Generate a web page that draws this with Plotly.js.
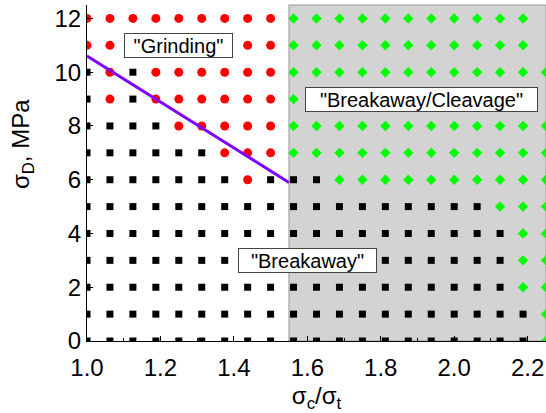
<!DOCTYPE html>
<html>
<head>
<meta charset="utf-8">
<script src="https://cdn.plot.ly/plotly-3.0.1.min.js"></script>
<style>html,body{margin:0;padding:0;background:#fff;}#chart{width:546px;height:413px;}</style>
</head>
<body>
<div id="chart"></div>
<script>
// Grid columns (sigma_c / sigma_t)
const ratioValues = [1.0, 1.0625, 1.125, 1.1875, 1.25, 1.3125, 1.375, 1.4375, 1.5, 1.5625,
  1.625, 1.6875, 1.75, 1.8125, 1.875, 1.9375, 2.0, 2.0625, 2.125, 2.1875, 2.25];
// Grid rows (sigma_D, MPa), top to bottom
const stressValues = [12, 11, 10, 9, 8, 7, 6, 5, 4, 3, 2, 1, 0];
// Regime per grid point: B = Breakaway, R = Grinding, G = Breakaway/Cleavage
const regimeRows = [
  "RRRRRRRRRGGGGGGGGGGG",
  "RRRRRRRRRGGGGGGGGGGG",
  "BRBRRRRRRGGGGGGGGGGGG",
  "BRBRRRRRRGGGGGGGGGGG",
  "BBBBRRRRRGGGGGGGGGGGG",
  "BBBBBBRRRGGGGGGGGGGGG",
  "BBBBBBBRBBBGGGGGGGGGG",
  "BBBBBBBBBBBBBBBBBBGGG",
  "BBBBBBBBBBBBBBBBBBBGG",
  "BBBBBBBBBBBBBBBBBBBGG",
  "BBBBBBBBBBBBBBBBBBBGG",
  "BBBBBBBBBBBBBBBBBBBBG",
  "BBBBBBBBBBBBBBBBBBBBG"
];
// Boundary line
const boundaryX = [1.0, 1.55];
const boundaryY = [10.6, 5.9];
// Shaded cleavage region
const shadeStart = 1.55;
const shadeEnd = 2.25;
// Region labels
const labelTexts = ['"Grinding"', '"Breakaway/Cleavage"', '"Breakaway"'];
const labelX = [1.25, 1.91, 1.6];
const labelY = [11, 9, 3];

const pts = {B: {x: [], y: []}, R: {x: [], y: []}, G: {x: [], y: []}};
regimeRows.forEach((row, i) => {
  for (let k = 0; k < row.length; k++) {
    pts[row[k]].x.push(ratioValues[k]);
    pts[row[k]].y.push(stressValues[i]);
  }
});

const traces = [
  {type: 'scatter', mode: 'markers', x: pts.B.x, y: pts.B.y, name: 'Breakaway',
   marker: {symbol: 'square', size: 7, color: '#000000'}},
  {type: 'scatter', mode: 'markers', x: pts.R.x, y: pts.R.y, name: 'Grinding',
   marker: {symbol: 'circle', size: 9, color: '#ff0000'}},
  {type: 'scatter', mode: 'markers', x: pts.G.x, y: pts.G.y, name: 'Breakaway/Cleavage',
   marker: {symbol: 'diamond', size: 8, color: '#00ff00'}},
  {type: 'scatter', mode: 'lines', x: boundaryX, y: boundaryY, name: 'Boundary',
   line: {color: '#7f00ff', width: 3}}
];

const font = 'Arial, "Liberation Sans", sans-serif';
const boxWidths = [107, 231, 137];
const annotations = labelTexts.map((t, i) => ({
  x: labelX[i], y: labelY[i], xref: 'x', yref: 'y', text: t, showarrow: false,
  font: {family: font, size: 20, color: '#000'},
  bgcolor: '#ffffff', bordercolor: '#444444', borderwidth: 1, borderpad: 0,
  width: boxWidths[i], height: 23, xanchor: 'center', yanchor: 'middle'
}));
annotations.push({
  xref: 'paper', yref: 'paper', x: -0.1416, y: 0.586, textangle: -90,
  text: 'σ<sub>D</sub>, MPa', showarrow: false,
  font: {family: font, size: 24, color: '#000'}, xanchor: 'center', yanchor: 'middle'
});

const layout = {
  width: 546, height: 413,
  margin: {l: 87, r: 0, t: 5, b: 72},
  paper_bgcolor: '#fff', plot_bgcolor: '#fff',
  showlegend: false,
  font: {family: font, size: 24, color: '#000'},
  xaxis: {
    range: [1.0, 2.25], dtick: 0.2, tick0: 1.0, tickformat: '.1f',
    ticks: 'inside', ticklen: 5, tickcolor: '#000', showgrid: false, zeroline: false,
    showline: true, linecolor: '#000', linewidth: 1, ticklabelstandoff: 5,
    minor: {dtick: 0.1, ticks: 'inside', ticklen: 3, tickcolor: '#000', showgrid: false},
    tickfont: {family: font, size: 24, color: '#000'},
    title: {text: 'σ<sub>c</sub>/σ<sub>t</sub>', font: {family: font, size: 24, color: '#000'}, standoff: 8}
  },
  yaxis: {
    range: [0, 12.5], dtick: 2, tick0: 0,
    ticks: 'inside', ticklen: 6, tickcolor: '#000', showgrid: false, zeroline: false,
    showline: true, linecolor: '#000', linewidth: 1,
    tickfont: {family: font, size: 24, color: '#000'}
  },
  shapes: [{
    type: 'rect', xref: 'x', yref: 'paper', x0: shadeStart, x1: shadeEnd, y0: 0, y1: 1,
    fillcolor: '#d3d3d3', line: {color: '#9a9a9a', width: 1}, layer: 'below'
  }],
  annotations: annotations
};

Plotly.newPlot('chart', traces, layout, {staticPlot: true, displayModeBar: false});
</script>
</body>
</html>
